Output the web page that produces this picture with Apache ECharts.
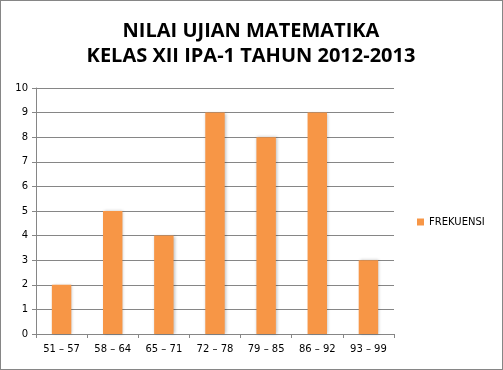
<!DOCTYPE html>
<html><head><meta charset="utf-8">
<script src="https://cdn.jsdelivr.net/npm/echarts@6/dist/echarts.min.js"></script>
<style>html,body{margin:0;padding:0;background:#fff}#c{width:503px;height:370px;box-sizing:border-box;border:1px solid #868686}</style>
</head><body><div id="c"></div>
<script>
const categories = ['51 – 57','58 – 64','65 – 71','72 – 78','79 – 85','86 – 92','93 – 99'];
const frekuensi = [2,5,4,9,8,9,3];
const seriesName = 'FREKUENSI';
const titleLines = ['NILAI UJIAN MATEMATIKA','KELAS XII IPA-1 TAHUN 2012-2013'];

const chart = echarts.init(document.getElementById('c'), null, {renderer:'canvas'});
chart.setOption({
  animation:false,
  title:{text:titleLines.join('\n'), left:245, textAlign:'center', top:13,
    textStyle:{fontFamily:'Open Sans', fontWeight:'bold', fontSize:20, lineHeight:25, color:'#000'}},
  legend:{data:[seriesName], left:411, top:211, orient:'vertical', icon:'rect', itemWidth:7, itemHeight:7, itemGap:4,
    textStyle:{fontFamily:'DejaVu Sans', fontSize:10, color:'#000'}},
  grid:{left:35, right:108, top:87, bottom:35, containLabel:false},
  xAxis:{type:'category', data:categories,
    axisLine:{lineStyle:{color:'#868686'}},
    axisTick:{show:true, length:4, lineStyle:{color:'#868686'}},
    axisLabel:{fontFamily:'DejaVu Sans', fontSize:10, color:'#000', margin:10}},
  yAxis:{type:'value', min:0, max:10, interval:1,
    axisLine:{show:true, lineStyle:{color:'#868686'}},
    axisTick:{show:true, length:4, lineStyle:{color:'#868686'}},
    splitLine:{lineStyle:{color:'#868686'}},
    axisLabel:{fontFamily:'DejaVu Sans', fontSize:10, color:'#000', margin:8}},
  series:[{name:seriesName, type:'bar', data:frekuensi, barWidth:'38%',
    itemStyle:{color:'#F79646', shadowColor:'rgba(0,0,0,0.25)', shadowBlur:3, shadowOffsetX:1, shadowOffsetY:0}}]
});
</script></body></html>
